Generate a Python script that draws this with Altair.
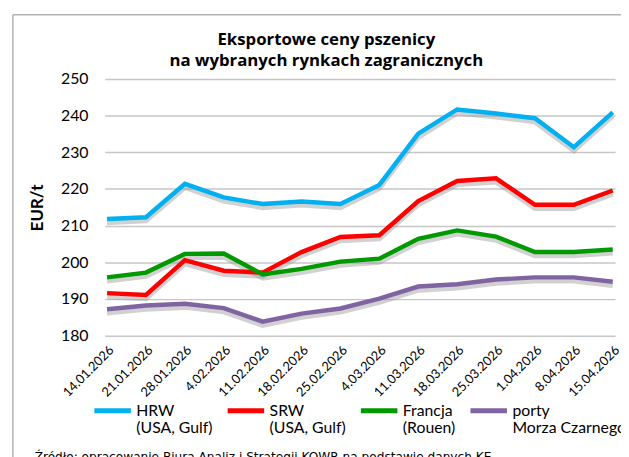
import altair as alt
import pandas as pd

dates = ["14.01.2026", "21.01.2026", "28.01.2026", "4.02.2026", "11.02.2026",
         "18.02.2026", "25.02.2026", "4.03.2026", "11.03.2026", "18.03.2026",
         "25.03.2026", "1.04.2026", "8.04.2026", "15.04.2026"]

series_names = ["HRW|(USA, Gulf)", "SRW|(USA, Gulf)", "Francja|(Rouen)", "porty|Morza Czarnego"]
series_colors = ["#00b0f0", "#ff0000", "#009a00", "#8064a2"]

hrw = [211.8, 212.3, 221.4, 217.7, 215.9, 216.6, 215.9, 221.1, 235.1, 241.7, 240.6, 239.3, 231.4, 240.9]
srw = [191.6, 191.1, 200.6, 197.7, 197.2, 202.8, 206.9, 207.4, 216.7, 222.2, 222.9, 215.7, 215.7, 219.6]
francja = [195.9, 197.2, 202.3, 202.4, 196.7, 198.2, 200.2, 201.0, 206.4, 208.7, 207.0, 202.8, 202.8, 203.5]
porty = [187.2, 188.2, 188.7, 187.5, 183.8, 186.0, 187.4, 190.1, 193.4, 194.0, 195.3, 195.9, 195.9, 194.7]

rows = []
for name, vals in zip(series_names, [hrw, srw, francja, porty]):
    for d, v in zip(dates, vals):
        rows.append({"date": d, "series": name, "value": v})
df = pd.DataFrame(rows)

FONT = "Lato"
W, H = 517, 260

x_enc = alt.X("date:N", sort=dates, scale=alt.Scale(type="point", padding=0.06),
              axis=alt.Axis(title=None, labelAngle=-45, labelAlign="right", labelBaseline="top",
                            labelFontSize=13, labelFont=FONT, labelColor="#000000",
                            labelPadding=8, ticks=False, domain=False, grid=False))
y_scale = alt.Scale(domain=[180, 250], nice=False, zero=False)
y_axis = alt.Axis(title="EUR/t", titleFont=FONT, titleFontSize=17, titleFontWeight="bold",
                  titleColor="#000000", titlePadding=14, values=list(range(180, 251, 10)),
                  labelFontSize=16, labelFont=FONT, labelColor="#000000", labelPadding=17,
                  ticks=False, domain=False, grid=True, gridColor="#c6c6c6", gridWidth=1.5)

frame = alt.Chart(pd.DataFrame({"a": [0]})).mark_rect(
    fill=None, stroke="#8a8a8a", strokeWidth=1, clip=False
).encode(x=alt.value(-93), x2=alt.value(W + 30), y=alt.value(-65), y2=alt.value(H + 160))

shadow = alt.Chart(df).transform_calculate(
    sv="datum.value - 1.0"
).mark_line(strokeWidth=5, color="#9a9a9a", opacity=0.45).encode(
    x=x_enc,
    y=alt.Y("sv:Q", scale=y_scale, axis=y_axis),
    detail="series:N",
)

lines = alt.Chart(df).mark_line(strokeWidth=4.5).encode(
    x=x_enc,
    y=alt.Y("value:Q", scale=y_scale, axis=y_axis),
    color=alt.Color("series:N", sort=series_names,
                    scale=alt.Scale(domain=series_names, range=series_colors),
                    legend=alt.Legend(title=None, orient="none", legendX=-13, legendY=H + 55,
                                      direction="horizontal", columns=4,
                                      labelExpr="split(datum.label, '|')",
                                      labelFont=FONT, labelFontSize=16, labelColor="#000000",
                                      labelBaseline="middle", labelLimit=200, labelOffset=3,
                                      symbolType="stroke", symbolSize=1369, symbolStrokeWidth=5,
                                      columnPadding=4)),
)

caption = alt.Chart(pd.DataFrame({"t": ["Źródło: opracowanie Biura Analiz i Strategii KOWR na podstawie danych KE."]})).mark_text(
    align="left", baseline="alphabetic", font="DejaVu Sans", fontSize=12.3, color="#000000"
).encode(text="t:N", x=alt.value(-71), y=alt.value(H + 127))

chart = alt.layer(frame, shadow, lines, caption).properties(
    width=W, height=H,
    padding={"left": 98, "top": 69, "right": 6, "bottom": 120},
    autosize=alt.AutoSizeParams(type="none"),
    title=alt.TitleParams(["Eksportowe ceny pszenicy", "na wybranych rynkach zagranicznych"],
                          font="Open Sans", fontSize=17, fontWeight="bold", color="#000000",
                          lineHeight=21, anchor="middle", frame="group", dx=-34, offset=-56),
).configure_view(stroke=None)

chart.save("out.html", embed_options={"renderer": "svg", "actions": False})
